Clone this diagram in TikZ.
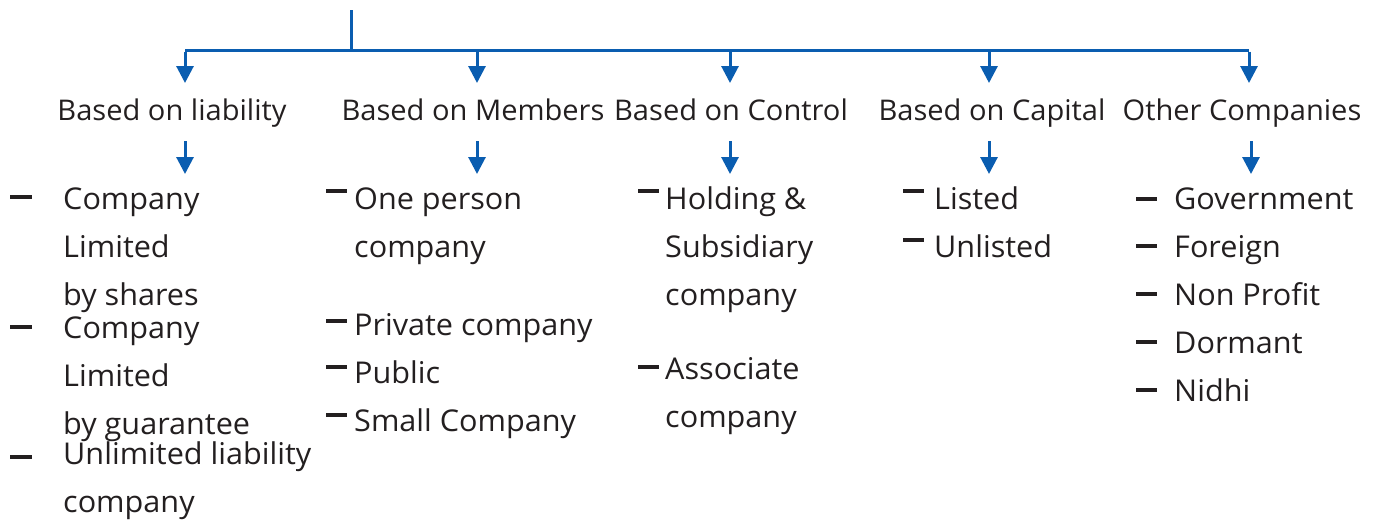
\documentclass[tikz,border=0pt]{standalone}
\usepackage{fontspec}
\setmainfont{Open Sans}[FakeStretch=1.02]
\usetikzlibrary{arrows.meta}
\definecolor{lineblue}{HTML}{0A5DB0}
\definecolor{txt}{HTML}{231F20}
\begin{document}
\begin{tikzpicture}[x=1pt,y=-1pt,
  conn/.style={draw=lineblue,line width=3pt},
  arr/.style={conn,-{Triangle[width=17pt,length=17pt]}},
  dashmark/.style={draw=txt,line width=3.1pt},
  head/.style={anchor=base,inner sep=0pt,text=txt,font=\fontsize{28.5}{32}\selectfont},
  item/.style={anchor=base west,inner sep=0pt,text=txt,font=\fontsize{30}{32}\selectfont}]
\useasboundingbox (0,0) rectangle (1378,520);
% heading nodes
\node[head] (h1) at (172,120) {Based on liability};
\node[head] (h2) at (473,120) {Based on Members};
\node[head] (h3) at (731,120) {Based on Control};
\node[head] (h4) at (992,120) {Based on Capital};
\node[head] (h5) at (1242,120) {Other Companies};
% top structure
\coordinate (top) at (351,10);
\coordinate (j) at (351,50);
\coordinate (b1) at (185,50);
\coordinate (b5) at (1249,50);
\coordinate (b2) at (477,50);
\coordinate (b3) at (730,50);
\coordinate (b4) at (989,50);
\coordinate (t1) at (185,83);
\coordinate (t2) at (477,83);
\coordinate (t3) at (730,83);
\coordinate (t4) at (989,83);
\coordinate (t5) at (1249,83);
\draw[conn] (top) -- (j);
\draw[conn] (b1) -- (b5);
\draw[arr] ([yshift=-1.5pt]b1) -- (t1);
\draw[arr] (b2) -- (t2);
\draw[arr] (b3) -- (t3);
\draw[arr] (b4) -- (t4);
\draw[arr] ([yshift=-1.5pt]b5) -- (t5);
% second arrows
\foreach \i/\x in {1/185,2/477,3/730,4/989,5/1251}{
  \coordinate (s\i) at (\x,141);
  \coordinate (e\i) at (\x,174);
  \draw[arr] (s\i) -- (e\i);
}
% column 1
\node[item] (c1a) at (63,209) {Company};
\node[item] (c1b) at (63,257) {Limited};
\node[item] (c1c) at (63,305) {by shares};
\node[item] (c1d) at (63,338) {Company};
\node[item] (c1e) at (63,386) {Limited};
\node[item] (c1f) at (63,434) {by guarantee};
\node[item] (c1g) at (63,464) {Unlimited liability};
\node[item] (c1h) at (63,512) {company};
\foreach \y in {197,327,457}{\draw[dashmark] (10,\y) -- (32,\y);}
% column 2
\node[item] (c2a) at (354,209) {One person};
\node[item] (c2b) at (354,257) {company};
\node[item] (c2c) at (354,335) {Private company};
\node[item] (c2d) at (354,383) {Public};
\node[item] (c2e) at (354,431) {Small Company};
\foreach \y in {191,321,367,415}{\draw[dashmark] (326,\y) -- (347,\y);}
% column 3
\node[item] (c3a) at (665,209) {Holding \&};
\node[item] (c3b) at (665,257) {Subsidiary};
\node[item] (c3c) at (665,305) {company};
\node[item] (c3d) at (665,379) {Associate};
\node[item] (c3e) at (665,427) {company};
\foreach \y in {191,367}{\draw[dashmark] (638,\y) -- (659,\y);}
% column 4
\node[item] (c4a) at (934,209) {Listed};
\node[item] (c4b) at (934,257) {Unlisted};
\foreach \y in {191,240}{\draw[dashmark] (903,\y) -- (924,\y);}
% column 5
\node[item] (c5a) at (1174,209) {Government};
\node[item] (c5b) at (1174,257) {Foreign};
\node[item] (c5c) at (1174,305) {Non Profit};
\node[item] (c5d) at (1174,353) {Dormant};
\node[item] (c5e) at (1174,401) {Nidhi};
\foreach \y in {199,246,294,342,390}{\draw[dashmark] (1136,\y) -- (1157,\y);}
\end{tikzpicture}
\end{document}
